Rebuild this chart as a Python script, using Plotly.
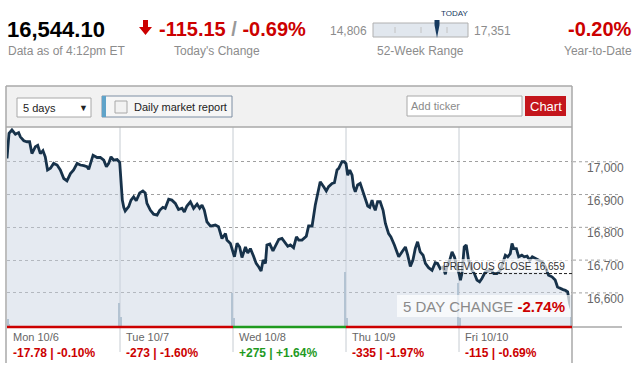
import plotly.graph_objects as go

W, H = 640, 376
FONT = "Arial, 'Liberation Sans', sans-serif"
RED = "#cc0000"
GREEN = "#1f9a1f"
GRAY = "#8c8c8c"

# ---------------- data ----------------
minutes = [0, 7, 17, 29, 40, 46, 58, 69, 78, 86, 98, 106, 115, 124, 132, 140, 150, 161, 173, 184,
           196, 207, 219, 230, 242, 253, 265, 276, 282, 290, 297, 311, 322, 334, 343, 351, 359, 368, 380, 389,
           393, 398, 403, 408, 420, 428, 437, 446, 458, 469, 477, 483, 495, 506, 518, 527, 538, 546, 558, 569,
           581, 592, 604, 612, 621, 633, 644, 656, 665, 673, 681, 690, 702, 719, 730, 742, 754, 759, 771, 780,
           785, 794, 803, 811, 823, 831, 840, 851, 860, 869, 877, 884, 892, 897, 907, 918, 926, 938, 949, 961,
           969, 978, 989, 999, 1007, 1018, 1026, 1033, 1041, 1053, 1064, 1076, 1081, 1093, 1102, 1110, 1122,
           1130, 1139, 1145, 1150, 1156, 1164, 1170,
           1176, 1183, 1191, 1196, 1202, 1210, 1219, 1227, 1237, 1245, 1252, 1260, 1265, 1271, 1279, 1288,
           1298, 1306, 1317, 1325, 1337, 1346, 1352, 1363, 1375, 1383, 1392, 1401, 1409, 1417, 1426, 1436,
           1444, 1455, 1467, 1478, 1486, 1495, 1505, 1513, 1518, 1528, 1536, 1544, 1553, 1560,
           1565, 1570, 1578, 1585, 1593, 1605, 1613, 1622, 1631, 1639, 1651, 1662, 1670, 1680, 1691, 1703,
           1712, 1720, 1728, 1737, 1743, 1749, 1758, 1766, 1777, 1785, 1795, 1804, 1813, 1823, 1835, 1846,
           1858, 1869, 1881, 1892, 1900, 1910, 1919, 1927, 1935, 1942, 1950]
prices = [17010, 17087, 17097, 17084, 17089, 17076, 17064, 17061, 17061, 17025, 17046, 17050, 17025, 17034,
          17015, 16975, 16980, 16995, 16990, 16975, 16949, 16942, 16964, 16975, 16995, 16990, 16988, 16985,
          16977, 17000, 17020, 17013, 17013, 17005, 16985, 16995, 17015, 17005, 17007, 16998,
          16944, 16883, 16861, 16850, 16863, 16883, 16893, 16881, 16905, 16911, 16905, 16873, 16852, 16840,
          16837, 16852, 16861, 16858, 16886, 16883, 16873, 16854, 16858, 16847, 16865, 16878, 16858, 16871,
          16858, 16868, 16852, 16817, 16804, 16807, 16802, 16766, 16781, 16761, 16751, 16722,
          16710, 16751, 16740, 16708, 16740, 16722, 16735, 16712, 16690, 16679, 16667, 16700, 16690, 16746,
          16749, 16728, 16742, 16763, 16766, 16751, 16742, 16746, 16738, 16771, 16761, 16761, 16766, 16773,
          16804, 16804, 16868, 16919, 16939, 16924, 16911, 16924, 16934, 16936, 16975, 16980, 16990, 17000,
          17000, 16994,
          16959, 16975, 16959, 16924, 16908, 16929, 16934, 16913, 16883, 16865, 16861, 16883, 16865, 16852,
          16878, 16878, 16852, 16812, 16781, 16771, 16746, 16725, 16710, 16725, 16740, 16715, 16681, 16700,
          16735, 16756, 16725, 16715, 16690, 16677, 16669, 16692, 16690, 16674, 16679, 16657, 16679, 16700,
          16725, 16710, 16684, 16659,
          16639, 16659, 16740, 16746, 16700, 16669, 16659, 16639, 16634, 16644, 16664, 16669, 16671, 16659,
          16659, 16669, 16690, 16715, 16710, 16720, 16751, 16735, 16735, 16710, 16715, 16710, 16712, 16700,
          16710, 16705, 16700, 16695, 16679, 16654, 16649, 16639, 16618, 16613, 16610, 16608, 16603, 16567,
          16544.10]

vol_minutes = [3, 8, 387, 394, 777, 785, 1167, 1175, 1557, 1565, 1946]
vol_values = [8, 3, 24, 10, 34, 9, 55, 9, 44, 9, 32]

day_len = 390
day_labels = ["Mon 10/6", "Tue 10/7", "Wed 10/8", "Thu 10/9", "Fri 10/10"]
day_changes = ["-17.78", "-273", "+275", "-335", "-115"]
day_pcts = ["-0.10%", "-1.60%", "+1.64%", "-1.97%", "-0.69%"]
day_up = [False, False, True, False, False]

y_ticks = [16600, 16700, 16800, 16900, 17000]
y_tick_text = ["16,600", "16,700", "16,800", "16,900", "17,000"]

prev_close = 16659
prev_close_text = "16,659"
last_price = "16,544.10"
today_change = "-115.15"
today_pct = "-0.69%"
week_low, week_high = "14,806", "17,351"
ytd_pct = "-0.20%"
five_day_pct = "-2.74%"


def px(x):
    return x / W


def py(y):
    return 1 - y / H


# plot area in pixels
PL, PR, PT, PB = 7, 572, 127, 327

fig = go.Figure()
fig.add_trace(go.Scatter(
    x=minutes, y=prices, mode="lines",
    line=dict(color="#17324a", width=2.8),
    fill="tozeroy", fillcolor="rgba(200,212,226,0.48)",
    hoverinfo="skip", showlegend=False))
fig.add_trace(go.Bar(
    x=vol_minutes, y=vol_values, width=5, yaxis="y2",
    marker=dict(color="#b3c3d2", line=dict(width=0)),
    hoverinfo="skip", showlegend=False))

shapes = []


def rect(x0, y0, x1, y1, fill, line="rgba(0,0,0,0)", lw=0, layer="above"):
    shapes.append(dict(type="rect", xref="paper", yref="paper",
                       x0=px(x0), x1=px(x1), y0=py(y1), y1=py(y0),
                       fillcolor=fill, line=dict(color=line, width=lw), layer=layer))


def hline(x0, x1, y, color, lw=1, dash="solid", layer="above"):
    shapes.append(dict(type="line", xref="paper", yref="paper",
                       x0=px(x0), x1=px(x1), y0=py(y), y1=py(y),
                       line=dict(color=color, width=lw, dash=dash), layer=layer))


def vline(x, y0, y1, color, lw=1, layer="above"):
    shapes.append(dict(type="line", xref="paper", yref="paper",
                       x0=px(x), x1=px(x), y0=py(y0), y1=py(y1),
                       line=dict(color=color, width=lw), layer=layer))


def path(points, fill):
    d = "M " + " L ".join(f"{px(a):.5f},{py(b):.5f}" for a, b in points) + " Z"
    shapes.append(dict(type="path", xref="paper", yref="paper", path=d,
                       fillcolor=fill, line=dict(width=0), layer="above"))


# control bar
rect(6, 86, 572, 127, "#f1f1f1", layer="below")
# select
rect(17, 98, 91, 117, "#ffffff", "#a8a8a8", 1)
# daily market report
rect(102, 96, 232, 117, "#f6f6f6", "#7d8ea3", 1)
rect(102, 96, 106, 117, "#5fa3c9")
rect(115, 101, 127, 113, "#f2f2f2", "#a8a8a8", 1)
# add ticker
rect(407, 96, 522, 116, "#ffffff", "#a8a8a8", 1)
# chart button
rect(525, 96, 566, 116, "#c4161c")

# frame
hline(6, 572, 86, "#a8a8a8", 1.5)
hline(6, 572, 127, "#a8a8a8", 1.5)
vline(6, 86, 363, "#a8a8a8", 1.5)
vline(572, 86, 363, "#a8a8a8", 1.5)

# 52 week range bar
rect(373, 23, 468, 37, "#e1e7ee", "#b0b0b0", 1)
for tx in (395, 421, 447):
    vline(tx, 27, 33, "#c2c2c2", 1)
path([(434.5, 20), (439.5, 20), (439.5, 25), (437, 38), (434.5, 25)], "#163a5f")

# red down arrow
path([(143, 20), (148, 20), (148, 27), (152, 27), (145.5, 35), (139, 27), (143, 27)], RED)

# day dividers and colored session line
for k in range(1, 5):
    shapes.append(dict(type="line", xref="x", yref="paper", x0=k * day_len, x1=k * day_len,
                       y0=py(352), y1=py(PT), line=dict(color="#c6ccd2", width=1), layer="below"))
for k, up in enumerate(day_up):
    shapes.append(dict(type="line", xref="x", yref="paper", x0=k * day_len, x1=(k + 1) * day_len,
                       y0=py(327), y1=py(327), line=dict(color=GREEN if up else RED, width=2.5),
                       layer="above"))
hline(572, 622, 327, "#a8a8a8", 1.5)

# gridlines continuing into the label column
for v in y_ticks:
    shapes.append(dict(type="line", xref="paper", yref="y", x0=px(573), x1=px(621), y0=v, y1=v,
                       line=dict(color="#a0a0a0", width=1, dash="dot"), layer="above"))

# previous close
rect(441, 259, 571, 272, "rgba(255,255,255,0.65)")
shapes.append(dict(type="line", xref="x", yref="y", x0=4 * day_len, x1=5 * day_len,
                   y0=prev_close, y1=prev_close,
                   line=dict(color="#222222", width=1, dash="3px,2px"), layer="above"))
# 5 day change box
rect(397, 295, 571, 317, "rgba(255,255,255,0.7)")

annotations = []


def text(x, y, s, size, color, anchor="left", bold=False, yanchor="middle"):
    if bold:
        s = f"<b>{s}</b>"
    annotations.append(dict(x=px(x), y=py(y), xref="paper", yref="paper", text=s,
                            showarrow=False, xanchor=anchor, yanchor=yanchor,
                            font=dict(family=FONT, size=size, color=color)))


# header
text(5, 30, last_price, 22, "#000000", bold=True)
text(6, 51, "Data as of 4:12pm ET", 12, GRAY)
text(157, 29, f'{today_change} <span style="color:#999999">/</span> {today_pct}', 20, RED, bold=True)
text(172, 51, "Today's Change", 12, GRAY)
text(369, 31, week_low, 12, GRAY, anchor="right")
text(472, 31, week_high, 12, GRAY)
text(438.5, 13.5, "TODAY", 8, "#163a5f")
text(420.5, 51, "52-Week Range", 12, GRAY, anchor="center")
text(634, 29, ytd_pct, 20, RED, anchor="right", bold=True)
text(634, 51, "Year-to-Date", 12, GRAY, anchor="right")

# controls
text(21, 108, "5 days", 11, "#222222")
text(83, 108, "▼", 9, "#222222", anchor="center")
text(132, 107, "Daily market report", 11, "#222222")
text(409, 106, "Add ticker", 11, "#8a8a8a")
text(545.5, 106, "Chart", 13, "#ffffff", anchor="center")

# y labels
for v, t in zip(y_ticks, y_tick_text):
    annotations.append(dict(x=px(585), y=v, xref="paper", yref="y", yshift=-6, text=t,
                            showarrow=False, xanchor="left", yanchor="middle",
                            font=dict(family=FONT, size=12, color="#666666")))

# day labels
for k in range(5):
    x0 = PL + k * (PR - PL) / 5 + 5
    col = GREEN if day_up[k] else RED
    text(x0 - 1, 337, day_labels[k], 11, "#666666")
    text(x0 - 1, 353, f"{day_changes[k]} | {day_pcts[k]}", 12, col, bold=True)

# overlays
text(567, 266, f"PREVIOUS CLOSE {prev_close_text}", 10, "#333333", anchor="right")
text(567, 306, f'<span style="color:#8a8a8a">5 DAY CHANGE</span> <b>{five_day_pct}</b>', 15, RED,
     anchor="right")

fig.update_layout(
    width=W, height=H,
    margin=dict(l=0, r=0, t=0, b=0),
    paper_bgcolor="#ffffff", plot_bgcolor="#ffffff",
    xaxis=dict(domain=[px(PL), px(PR)], range=[0, 5 * day_len], showgrid=False,
               showticklabels=False, zeroline=False, ticks="", fixedrange=True),
    yaxis=dict(domain=[py(PB), py(PT)], range=[16496, 17106], tickvals=y_ticks,
               showticklabels=False, showgrid=True, gridcolor="#a0a0a0", griddash="dot",
               gridwidth=1, zeroline=False, ticks="", fixedrange=True),
    yaxis2=dict(overlaying="y", range=[0, 200], visible=False, fixedrange=True),
    shapes=shapes, annotations=annotations, bargap=0,
    showlegend=False,
)

fig.write_html("out.html", config={"displayModeBar": False},
               post_script="document.body.style.margin='0px';document.body.style.overflow='hidden';")
